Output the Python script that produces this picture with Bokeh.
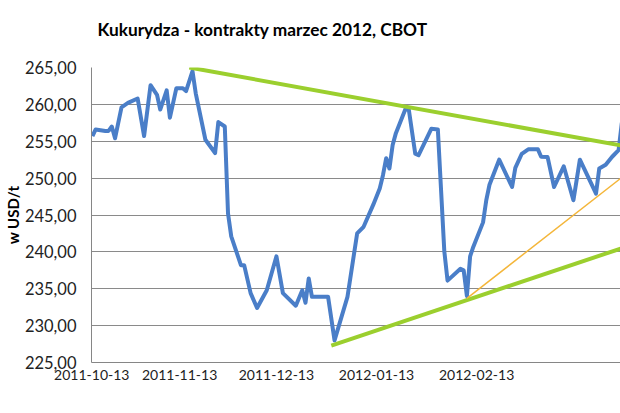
import pandas as pd
from bokeh.plotting import figure
from bokeh.models import Range1d, FixedTicker, Title
from bokeh.embed import file_html
from bokeh.resources import INLINE

# ---- data ----
dates = ["2011-10-17", "2011-10-18", "2011-10-21", "2011-10-22", "2011-10-23", "2011-10-24",
         "2011-10-26", "2011-10-28", "2011-10-31", "2011-11-02", "2011-11-04", "2011-11-06",
         "2011-11-07", "2011-11-09", "2011-11-10", "2011-11-12", "2011-11-14", "2011-11-15",
         "2011-11-17", "2011-11-18", "2011-11-21", "2011-11-24", "2011-11-25", "2011-11-27",
         "2011-11-28", "2011-11-29", "2011-12-02", "2011-12-03", "2011-12-05", "2011-12-07",
         "2011-12-10", "2011-12-13", "2011-12-15", "2011-12-19", "2011-12-21", "2011-12-22",
         "2011-12-23", "2011-12-24", "2011-12-29", "2011-12-31", "2012-01-04", "2012-01-07",
         "2012-01-09", "2012-01-12", "2012-01-14", "2012-01-15", "2012-01-16", "2012-01-17",
         "2012-01-18", "2012-01-19", "2012-01-22", "2012-01-23", "2012-01-25", "2012-01-26",
         "2012-01-30", "2012-02-01", "2012-02-03", "2012-02-04", "2012-02-08", "2012-02-09",
         "2012-02-10", "2012-02-11", "2012-02-12", "2012-02-15", "2012-02-16", "2012-02-17",
         "2012-02-20", "2012-02-24", "2012-02-25", "2012-02-27", "2012-02-29", "2012-03-03",
         "2012-03-04", "2012-03-06", "2012-03-08", "2012-03-11", "2012-03-14", "2012-03-16",
         "2012-03-21", "2012-03-22", "2012-03-24", "2012-03-26", "2012-03-28", "2012-03-29"]
prices = [255.7, 256.6, 256.4, 256.4, 257.0, 255.4,
          259.6, 260.2, 260.8, 255.7, 262.6, 261.3,
          259.3, 261.9, 258.2, 262.2, 262.2, 261.8,
          264.5, 261.5, 255.2, 253.4, 257.6, 257.0,
          245.2, 242.1, 238.2, 238.2, 234.4, 232.4,
          234.8, 239.4, 234.4, 232.7, 234.8, 233.1,
          236.4, 233.9, 233.9, 228.0, 233.9, 242.5,
          243.4, 246.4, 248.6, 250.4, 252.7, 251.3,
          254.5, 256.1, 259.4, 259.3, 253.3, 253.1,
          256.7, 256.6, 240.1, 236.1, 237.7, 237.5,
          234.0, 239.4, 240.7, 244.0, 247.0, 249.1,
          252.5, 248.8, 251.4, 253.3, 253.9, 253.9,
          252.9, 252.85, 248.8, 251.6, 247.0, 252.5,
          247.9, 251.3, 251.8, 252.9, 253.8, 257.5]

# trend lines (start/end)
upper_dates = ["2011-11-16", "2012-03-29"]
upper_vals = [265.0, 254.4]
lower_dates = ["2011-12-30", "2012-03-29"]
lower_vals = [227.3, 240.5]
orange_dates = ["2012-02-10", "2012-03-29"]
orange_vals = [233.7, 250.1]

x_tick_dates = ["2011-10-13", "2011-11-13", "2011-12-13", "2012-01-13", "2012-02-13"]
y_ticks = [225, 230, 235, 240, 245, 250, 255, 260, 265]

title_text = "Kukurydza - kontrakty marzec 2012, CBOT"
y_label_text = "w USD/t"

# ---- figure ----
FONT = "Lato"
x_start = pd.Timestamp("2011-10-16 17:00")
x_end = pd.Timestamp("2012-03-28 14:00")
p = figure(width=620, height=413, x_axis_type="datetime",
           x_range=Range1d(x_start, x_end), y_range=Range1d(225, 265),
           output_backend="svg", toolbar_location=None,
           min_border_left=89, min_border_right=0, min_border_top=67, min_border_bottom=51)
p.outline_line_color = None
p.background_fill_color = "white"
p.border_fill_color = "white"

# spacer between the chart title and the plot area
p.add_layout(Title(text=" ", text_font_size="12px", standoff=7), "above")

p.title.text = title_text
p.title.text_font = FONT
p.title.text_font_size = "17.3px"
p.title.text_font_style = "bold"
p.title.text_color = "#000000"
p.title.align = "left"
p.title.vertical_align = "bottom"
p.title.offset = 6
p.title.standoff = 10

# y axis
p.yaxis.ticker = FixedTicker(ticks=y_ticks)
p.yaxis.major_label_overrides = {t: f"{t:.2f}".replace(".", ",") for t in y_ticks}
p.yaxis.major_label_text_font = FONT
p.yaxis.major_label_text_font_size = "16.5px"
p.yaxis.major_label_text_color = "#222222"
p.yaxis.major_label_standoff = 15
p.yaxis.major_tick_out = 0
p.yaxis.major_tick_in = 0
p.yaxis.minor_tick_out = 0
p.yaxis.minor_tick_in = 0
p.yaxis.axis_line_color = "#868686"
p.yaxis.axis_label = y_label_text
p.yaxis.axis_label_text_font = FONT
p.yaxis.axis_label_text_font_size = "15px"
p.yaxis.axis_label_text_font_style = "bold"
p.yaxis.axis_label_text_color = "#000000"
p.yaxis.axis_label_standoff = 0
p.ygrid.ticker = FixedTicker(ticks=y_ticks)
p.ygrid.grid_line_color = "#8a8a8a"
p.ygrid.grid_line_width = 1

# x axis: ticks at the label dates (first one kept just inside the visible range)
x_tick_pos = [int(max(pd.Timestamp(d), x_start + pd.Timedelta(hours=2)).value // 10**6)
              for d in x_tick_dates]
p.xaxis.ticker = FixedTicker(ticks=x_tick_pos)
p.xaxis.major_label_overrides = {t: d for t, d in zip(x_tick_pos, x_tick_dates)}
p.xaxis.major_label_text_font = FONT
p.xaxis.major_label_text_font_size = "14px"
p.xaxis.major_label_text_color = "#222222"
p.xaxis.major_label_standoff = 7
p.xaxis.major_tick_out = 0
p.xaxis.major_tick_in = 0
p.xaxis.minor_tick_out = 0
p.xaxis.minor_tick_in = 0
p.xaxis.axis_line_color = "#868686"
p.xgrid.grid_line_color = None

p.line(pd.to_datetime(dates), prices, line_color="#4A7EC8", line_width=4, line_join="round")
p.line(pd.to_datetime(upper_dates), upper_vals, line_color="#9BCF2E", line_width=4)
p.line(pd.to_datetime(lower_dates), lower_vals, line_color="#9BCF2E", line_width=4)
p.line(pd.to_datetime(orange_dates), orange_vals, line_color="#F4B63A", line_width=1.5)

open("out.html", "w").write(file_html(p, INLINE))
